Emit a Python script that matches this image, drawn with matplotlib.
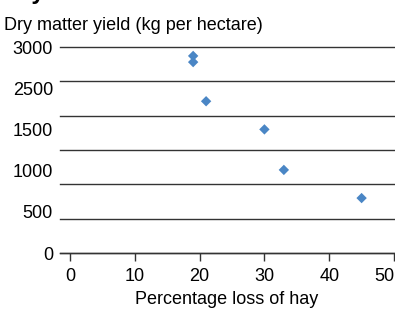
import matplotlib.pyplot as plt

# data
hay_loss = [19, 19, 21, 30, 33, 45]
dry_yield = [2870, 2780, 2210, 1800, 1210, 800]

grid_levels = [0, 500, 1000, 1500, 2000, 2500, 3000]
# labels in the original are spread evenly (2000 missing)
ytick_pos = [0, 600, 1200, 1800, 2400, 3000]
ytick_labels = ["0", "500", "1000", "1500", "2500", "3000"]
xticks = [0, 10, 20, 30, 40, 50]

plt.rcParams['font.family'] = ['Liberation Sans', 'DejaVu Sans']
plt.rcParams['font.size'] = 13

fig = plt.figure(figsize=(3.95, 3.11), dpi=100)
ax = fig.add_axes([60 / 395, 1 - 253 / 311, 334 / 395, 206 / 311])

for g in grid_levels:
    ax.axhline(g, color="#333333", linewidth=1.0, zorder=1, clip_on=False)

ax.scatter(hay_loss, dry_yield, marker="D", s=28, color="#4a86c5",
           edgecolors="none", zorder=3)

ax.set_xlim(-1.55, 50)
ax.set_ylim(0, 3000)
ax.set_xticks(xticks)
ax.set_yticks(ytick_pos)
ax.set_yticklabels(ytick_labels)
ax.tick_params(axis="y", length=0, pad=5)
ax.tick_params(axis="x", length=6, width=1, color="#333333", pad=5, direction="out")
# keep the last label inside the picture
ax.get_xticklabels()[-1].set_horizontalalignment("right")
ax.get_xticklabels()[-1].set_x(50.7)

for s in ["top", "right", "left"]:
    ax.spines[s].set_visible(False)
ax.spines["bottom"].set_color("#333333")
ax.spines["bottom"].set_linewidth(1.0)

ax.set_xlabel("Percentage loss of hay", labelpad=4)

fig.text(4 / 395, 1 - 30 / 311, "Dry matter yield (kg per hectare)",
         ha="left", va="baseline")
# cut-off heading at top edge
fig.text(5 / 395, 1 + 1 / 311, "Dry", ha="left", va="baseline",
         fontsize=17, fontweight="bold")

fig.savefig("out.png", dpi=100)
